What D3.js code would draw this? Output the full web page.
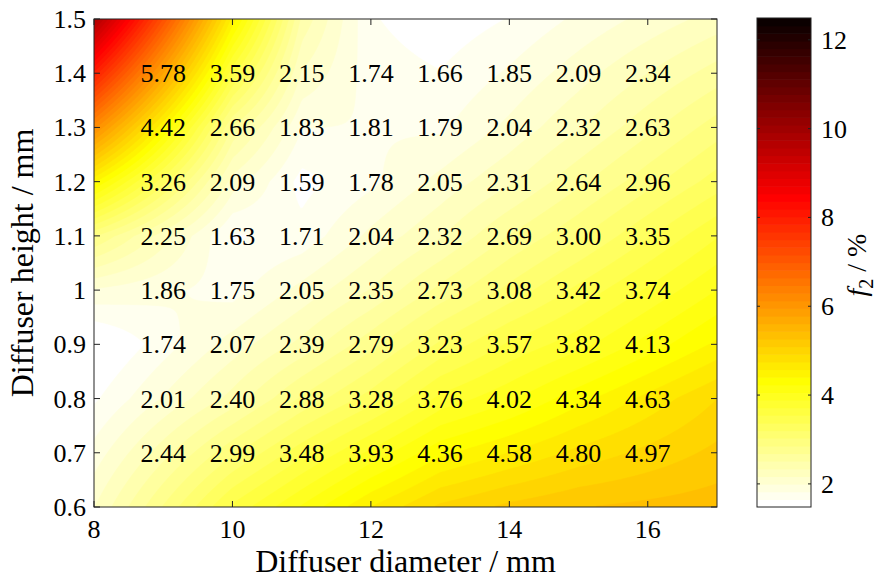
<!DOCTYPE html>
<html>
<head>
<meta charset="utf-8">
<script src="https://cdn.jsdelivr.net/npm/d3@7"></script>
<style>
  body { margin: 0; background: #fff; }
</style>
</head>
<body>
<svg id="chart" width="890" height="576"></svg>
<script>
"use strict";

// measured grid (diameter in mm, height in mm), f2 in %
var diameters = [9, 10, 11, 12, 13, 14, 15, 16];
var heights = [1.4, 1.3, 1.2, 1.1, 1.0, 0.9, 0.8, 0.7];
var f2 = [
  [5.78, 3.59, 2.15, 1.74, 1.66, 1.85, 2.09, 2.34],
  [4.42, 2.66, 1.83, 1.81, 1.79, 2.04, 2.32, 2.63],
  [3.26, 2.09, 1.59, 1.78, 2.05, 2.31, 2.64, 2.96],
  [2.25, 1.63, 1.71, 2.04, 2.32, 2.69, 3.00, 3.35],
  [1.86, 1.75, 2.05, 2.35, 2.73, 3.08, 3.42, 3.74],
  [1.74, 2.07, 2.39, 2.79, 3.23, 3.57, 3.82, 4.13],
  [2.01, 2.40, 2.88, 3.28, 3.76, 4.02, 4.34, 4.63],
  [2.44, 2.99, 3.48, 3.93, 4.36, 4.58, 4.80, 4.97]
];
var xTicks = [8, 10, 12, 14, 16];
var yTicks = [0.6, 0.7, 0.8, 0.9, 1, 1.1, 1.2, 1.3, 1.4, 1.5];
var cTicks = [2, 4, 6, 8, 10, 12];
var cLimits = [1.48, 12.49];

var FONT = "'Times New Roman', 'Liberation Serif', Times, 'DejaVu Serif', serif";

var svg = d3.select("#chart").style("font-family", FONT);
var x = d3.scaleLinear().domain([8, 17]).range([94, 717]);
var y = d3.scaleLinear().domain([0.6, 1.5]).range([507, 19]);
var cy = d3.scaleLinear().domain(cLimits).range([507, 18]);

// flipud(hot(64)) like colormap
var nC = 64;
function hotColor(k) {
  // k index in hot (0 = black end)
  var n1 = 24, n2 = 24, n3 = nC - n1 - n2;
  var r = k < n1 ? (k + 1) / n1 : 1;
  var g = k < n1 ? 0 : k < n1 + n2 ? (k - n1 + 1) / n2 : 1;
  var b = k < n1 + n2 ? 0 : (k - n1 - n2 + 1) / n3;
  return d3.rgb(r * 255, g * 255, b * 255).toString();
}
var cmap = d3.range(nC).map((i) => hotColor(nC - 1 - i));
var step = (cLimits[1] - cLimits[0]) / nC;
var levels = d3.range(nC).map((i) => cLimits[0] + i * step);

// bilinear surface through the grid (extended linearly to the axes edges)
var ascH = heights.slice().reverse();
var ascF = f2.slice().reverse();
function surface(dx, hy) {
  var fx = (dx - diameters[0]) / (diameters[1] - diameters[0]);
  var fy = (hy - ascH[0]) / (ascH[1] - ascH[0]);
  var i = Math.max(0, Math.min(diameters.length - 2, Math.floor(fx)));
  var j = Math.max(0, Math.min(ascH.length - 2, Math.floor(fy)));
  var u = fx - i, v = fy - j;
  return ascF[j][i] * (1 - u) * (1 - v) + ascF[j][i + 1] * u * (1 - v) +
    ascF[j + 1][i] * (1 - u) * v + ascF[j + 1][i + 1] * u * v;
}

var nx = 312, ny = 244;
var grid = new Array(nx * ny);
for (var r = 0; r < ny; r++) {
  for (var c = 0; c < nx; c++) {
    var dx = 8 + (c + 0.5) * 9 / nx;
    var hy = 1.5 - (r + 0.5) * 0.9 / ny;
    grid[r * nx + c] = surface(dx, hy);
  }
}

var contours = d3.contours().size([nx, ny]).thresholds(levels)(grid);
var proj = d3.geoTransform({
  point: function (px, py) {
    this.stream.point(x(8 + px * 9 / nx), y(1.5 - py * 0.9 / ny));
  }
});
var path = d3.geoPath(proj);

svg.append("clipPath").attr("id", "plotClip")
  .append("rect")
  .attr("x", x(8)).attr("y", y(1.5))
  .attr("width", x(17) - x(8)).attr("height", y(0.6) - y(1.5));

svg.append("g")
  .attr("clip-path", "url(#plotClip)")
  .selectAll("path")
  .data(contours)
  .join("path")
  .attr("d", path)
  .attr("fill", (d, i) => cmap[i])
  .attr("stroke", (d, i) => cmap[i])
  .attr("stroke-width", 0.5);

// value labels
var cells = [];
heights.forEach((h, j) => diameters.forEach((dd, i) => cells.push({ d: dd, h: h, v: f2[j][i] })));
svg.append("g").selectAll("text")
  .data(cells)
  .join("text")
  .attr("x", (d) => x(d.d))
  .attr("y", (d) => y(d.h) + 9)
  .attr("text-anchor", "middle")
  .style("font-size", "26px")
  .text((d) => d.v.toFixed(2));

// axes box with inward ticks on all sides
var tl = 6;
var axisG = svg.append("g").attr("stroke", "#222").attr("stroke-width", 1);
xTicks.forEach((t) => {
  axisG.append("line").attr("x1", x(t)).attr("x2", x(t)).attr("y1", y(0.6)).attr("y2", y(0.6) - tl);
  axisG.append("line").attr("x1", x(t)).attr("x2", x(t)).attr("y1", y(1.5)).attr("y2", y(1.5) + tl);
});
yTicks.forEach((t) => {
  axisG.append("line").attr("x1", x(8)).attr("x2", x(8) + tl).attr("y1", y(t)).attr("y2", y(t));
  axisG.append("line").attr("x1", x(17)).attr("x2", x(17) - tl).attr("y1", y(t)).attr("y2", y(t));
});
axisG.append("rect")
  .attr("x", x(8)).attr("y", y(1.5))
  .attr("width", x(17) - x(8)).attr("height", y(0.6) - y(1.5))
  .attr("fill", "none");

svg.append("g").selectAll("text")
  .data(xTicks)
  .join("text")
  .attr("x", (d) => x(d))
  .attr("y", 538)
  .attr("text-anchor", "middle")
  .style("font-size", "26px")
  .text((d) => d);

svg.append("g").selectAll("text")
  .data(yTicks)
  .join("text")
  .attr("x", 86)
  .attr("y", (d) => y(d) + 9)
  .attr("text-anchor", "end")
  .style("font-size", "26px")
  .text((d) => String(+d.toFixed(1)));

svg.append("text")
  .attr("x", (x(8) + x(17)) / 2)
  .attr("y", 572)
  .attr("text-anchor", "middle")
  .style("font-size", "32px")
  .text("Diffuser diameter / mm");

svg.append("text")
  .attr("transform", "translate(33," + (y(0.6) + y(1.5)) / 2 + ") rotate(-90)")
  .attr("text-anchor", "middle")
  .style("font-size", "32px")
  .text("Diffuser height / mm");

// colorbar
var cbX = 757, cbW = 54;
svg.append("g").selectAll("rect")
  .data(levels)
  .join("rect")
  .attr("x", cbX)
  .attr("width", cbW)
  .attr("y", (d) => cy(d + step))
  .attr("height", (d) => cy(d) - cy(d + step) + 0.6)
  .attr("fill", (d, i) => cmap[i]);

var cbG = svg.append("g").attr("stroke", "#222").attr("stroke-width", 1);
cTicks.forEach((t) => {
  cbG.append("line").attr("x1", cbX).attr("x2", cbX + 3).attr("y1", cy(t)).attr("y2", cy(t));
  cbG.append("line").attr("x1", cbX + cbW).attr("x2", cbX + cbW - 3).attr("y1", cy(t)).attr("y2", cy(t));
});
cbG.append("rect")
  .attr("x", cbX).attr("y", cy(cLimits[1]))
  .attr("width", cbW).attr("height", cy(cLimits[0]) - cy(cLimits[1]))
  .attr("fill", "none");

svg.append("g").selectAll("text")
  .data(cTicks)
  .join("text")
  .attr("x", cbX + cbW + 10)
  .attr("y", (d) => cy(d) + 9)
  .style("font-size", "26px")
  .text((d) => d);

var cLabel = svg.append("text")
  .attr("transform", "translate(866,265) rotate(-90)")
  .attr("text-anchor", "middle")
  .style("font-size", "28px");
cLabel.append("tspan").style("font-style", "italic").text("f");
cLabel.append("tspan").attr("dy", 7).style("font-size", "20px").text("2");
cLabel.append("tspan").attr("dy", -7).text(" / %");
</script>
</body>
</html>
